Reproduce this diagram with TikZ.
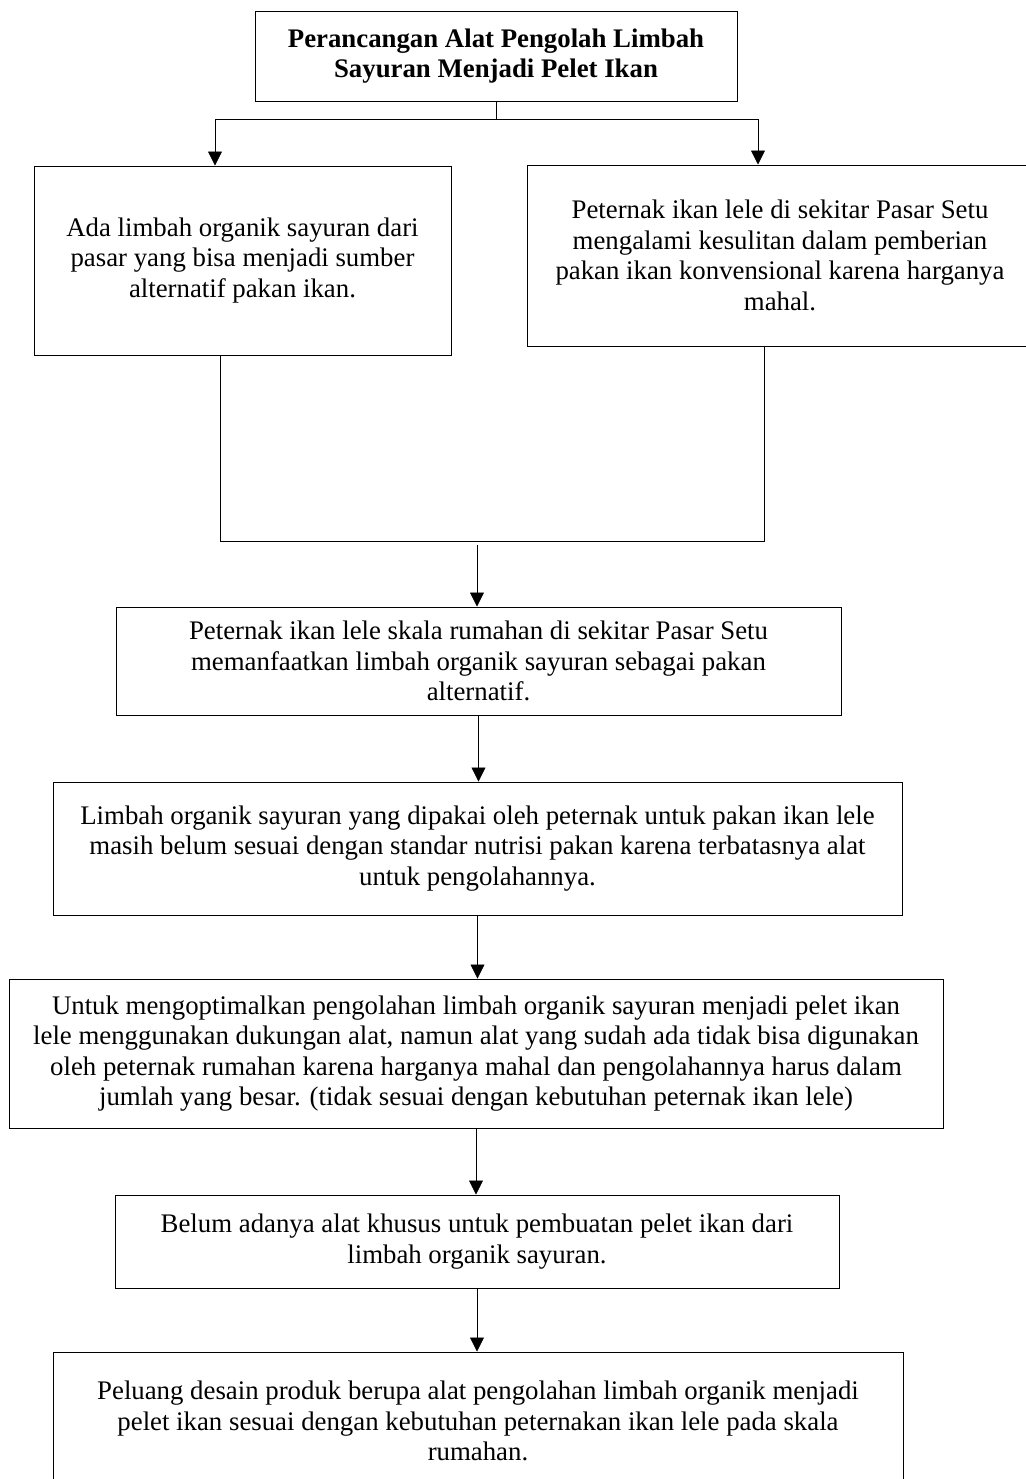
\documentclass[tikz,border=0pt]{standalone}
\usepackage{fontspec}
\setmainfont{Liberation Serif}
\usetikzlibrary{arrows.meta}
\begin{document}
\begin{tikzpicture}
[boxdecorate/.style={shape=rectangle,draw,line width=0.5pt,align=center,
   inner sep=0pt,font=\fontsize{13.4}{15.3}\selectfont},%
  linedecorate/.style={-,line width=0.5pt},%
  arrowdecorate/.style={-{Triangle[length=7pt,width=7pt]},line width=0.4pt},%
  x=0.5pt,y=-0.5pt]
\useasboundingbox (0,0) rectangle (1025,1479);
%%
%% boxes
\node (judul) at (496,56) [boxdecorate,minimum width=241pt,minimum height=45pt]
  {\textbf{Perancangan Alat Pengolah Limbah}\\ \textbf{Sayuran Menjadi Pelet Ikan}};
\node (limbah) at (242.5,260.5) [boxdecorate,minimum width=208.5pt,minimum height=94.5pt]
  {Ada limbah organik sayuran dari\\ pasar yang bisa menjadi sumber\\ alternatif pakan ikan.};
\node (kesulitan) at (780,255.5) [boxdecorate,minimum width=253pt,minimum height=90.5pt]
  {Peternak ikan lele di sekitar Pasar Setu\\ mengalami kesulitan dalam pemberian\\
   pakan ikan konvensional karena harganya\\ mahal.};
\node (rumahan) at (478.5,661) [boxdecorate,minimum width=362.5pt,minimum height=54pt]
  {Peternak ikan lele skala rumahan di sekitar Pasar Setu\\
   memanfaatkan limbah organik sayuran sebagai pakan\\ alternatif.};
\node (standar) at (477.5,848.5) [boxdecorate,minimum width=424.5pt,minimum height=66.5pt]
  {Limbah organik sayuran yang dipakai oleh peternak untuk pakan ikan lele\\
   masih belum sesuai dengan standar nutrisi pakan karena terbatasnya alat\\
   untuk pengolahannya.};
\node (optimal) at (476,1053.5) [boxdecorate,minimum width=467pt,minimum height=74.5pt]
  {Untuk mengoptimalkan pengolahan limbah organik sayuran menjadi pelet ikan\\
   lele menggunakan dukungan alat, namun alat yang sudah ada tidak bisa digunakan\\
   oleh peternak rumahan karena harganya mahal dan pengolahannya harus dalam\\
   jumlah yang besar. (tidak sesuai dengan kebutuhan peternak ikan lele)};
\node (khusus) at (477,1241.5) [boxdecorate,minimum width=362pt,minimum height=46.5pt]
  {Belum adanya alat khusus untuk pembuatan pelet ikan dari\\ limbah organik sayuran.};
\node (peluang) at (478,1421) [boxdecorate,minimum width=425pt,minimum height=69pt]
  {Peluang desain produk berupa alat pengolahan limbah organik menjadi\\
   pelet ikan sesuai dengan kebutuhan peternakan ikan lele pada skala\\ rumahan.};
%%
%% split and join points
\coordinate (cabangkiri) at (215,119);
\coordinate (cabangkanan) at (758,119);
\coordinate (gabungkiri) at (220,541);
\coordinate (gabungkanan) at (764,541);
\coordinate (gabungkeluar) at (477,545);
%%
%% lines and arrows
\draw[linedecorate] (judul.south) -- (judul.south |- cabangkiri);
\draw[linedecorate] (cabangkiri) -- (cabangkanan);
\draw[arrowdecorate] (cabangkiri) -- (cabangkiri |- limbah.north);
\draw[arrowdecorate] (cabangkanan) -- (cabangkanan |- kesulitan.north);
\draw[linedecorate] (gabungkiri |- limbah.south) -- (gabungkiri)
  -- (gabungkanan) -- (gabungkanan |- kesulitan.south);
\draw[arrowdecorate] (gabungkeluar) -- (gabungkeluar |- rumahan.north);
\foreach \startnode/\endnode in {rumahan/standar, standar/optimal,
  optimal/khusus, khusus/peluang} {
  \draw[arrowdecorate] (\startnode.south) -- (\startnode.south |- \endnode.north);
}
\end{tikzpicture}
\end{document}
